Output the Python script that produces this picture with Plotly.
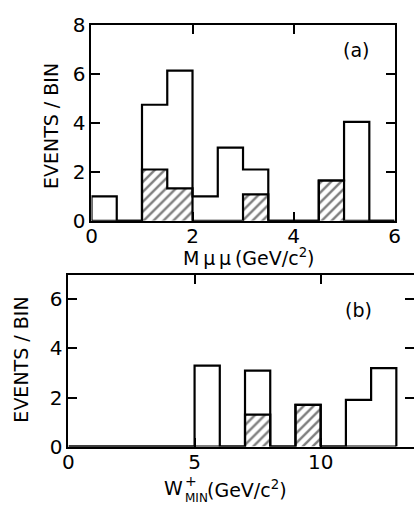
import plotly.graph_objects as go

# ---------------- data ----------------
# panel (a): M_mumu, 0.5 GeV bins
a_edges = [0, 0.5, 1, 1.5, 2, 2.5, 3, 3.5, 4, 4.5, 5, 5.5, 6]
a_total = [1, 0, 4.75, 6.15, 1, 3, 2.1, 0, 0, 1.65, 4.05, 0]
a_hatched = [0, 0, 2.1, 1.33, 0, 0, 1.08, 0, 0, 1.65, 0, 0]
a_xticks = [0, 2, 4, 6]
a_yticks = [0, 2, 4, 6, 8]

# panel (b): W+_MIN, 1 GeV bins
b_edges = [0, 1, 2, 3, 4, 5, 6, 7, 8, 9, 10, 11, 12, 13]
b_total = [0, 0, 0, 0, 0, 3.3, 0, 3.1, 0, 1.7, 0, 1.9, 3.2]
b_hatched = [0, 0, 0, 0, 0, 0, 0, 1.3, 0, 1.7, 0, 0, 0]
b_xticks = [0, 5, 10]
b_yticks = [0, 2, 4, 6]

FONT = "DejaVu Sans"


def step_path(edges, vals):
    xs = [edges[0]]
    ys = [0]
    for i, v in enumerate(vals):
        xs.append(edges[i])
        ys.append(v)
    xs.append(edges[-1])
    ys.append(0)
    return xs, ys


fig = go.Figure()


def add_hist(edges, total, hatched, xa, ya):
    hx, hy = step_path(edges, hatched)
    fig.add_trace(go.Scatter(
        x=hx, y=hy, xaxis=xa, yaxis=ya, mode="lines", line_shape="hv",
        line=dict(color="black", width=0), fill="tozeroy", fillcolor="white",
        fillpattern=dict(shape="/", fgcolor="black", bgcolor="white",
                         size=7, solidity=0.35),
        hoverinfo="skip", showlegend=False))
    fig.add_trace(go.Scatter(
        x=hx, y=hy, xaxis=xa, yaxis=ya, mode="lines", line_shape="hv",
        line=dict(color="black", width=2.2), hoverinfo="skip", showlegend=False))
    tx, ty = step_path(edges, total)
    fig.add_trace(go.Scatter(
        x=tx, y=ty, xaxis=xa, yaxis=ya, mode="lines", line_shape="hv",
        line=dict(color="black", width=2.2), hoverinfo="skip", showlegend=False))


add_hist(a_edges, a_total, a_hatched, "x", "y")
add_hist(b_edges, b_total, b_hatched, "x2", "y2")
# invisible trace to carry right-hand ticks of panel (b)
fig.add_trace(go.Scatter(x=[b_edges[0]], y=[0], xaxis="x2", yaxis="y3",
                         mode="markers", marker=dict(opacity=0),
                         hoverinfo="skip", showlegend=False))

W, H = 420, 517

axis_common = dict(
    showgrid=False, zeroline=False, showline=True, linecolor="black",
    linewidth=2, ticks="inside", ticklen=9, tickwidth=2, tickcolor="black",
    tickfont=dict(family=FONT, size=20, color="black"),
)

fig.update_layout(
    width=W, height=H, autosize=False,
    margin=dict(l=0, r=0, t=0, b=0),
    paper_bgcolor="white", plot_bgcolor="white",
    font=dict(family=FONT, color="black"),
    xaxis=dict(domain=[88 / W, 400 / W], range=[0, 6], tickvals=a_xticks,
               anchor="y", mirror="ticks", ticklabelstandoff=-4, **axis_common),
    yaxis=dict(domain=[1 - 219 / H, 1 - 14 / H], range=[0, 8], tickvals=a_yticks,
               anchor="x", mirror="ticks", **axis_common),
    xaxis2=dict(domain=[64.3 / W, 1.0], range=[0, 13.7], tickvals=b_xticks,
                anchor="y2", mirror="ticks", ticklabelstandoff=-4, **axis_common),
    yaxis2=dict(domain=[1 - 455.7 / H, 1 - 275.7 / H], range=[0, 7],
                tickvals=b_yticks, anchor="x2", mirror=False, **axis_common),
    yaxis3=dict(overlaying="y2", side="right", anchor="x2", range=[0, 7],
                tickvals=b_yticks[1:], showticklabels=False, showline=False,
                showgrid=False, zeroline=False, ticks="inside", ticklen=9,
                tickwidth=2, tickcolor="black"),
)


def ann(text, x, y, angle=0, size=19, xanchor="center"):
    fig.add_annotation(text=text, x=x / W, y=1 - y / H, xref="paper", yref="paper",
                       showarrow=False, xanchor=xanchor, yanchor="middle",
                       textangle=angle, font=dict(family=FONT, size=size, color="black"))


ann("(a)", 360, 40)
ann("(b)", 363, 313)
ann("EVENTS / BIN", 47, 120, angle=-90, size=19)
ann("EVENTS / BIN", 15, 365, angle=-90, size=19)
ann("M\u2009μ\u2009μ\u2009(GeV/c<sup>2</sup>)", 250, 257, size=19)
ann("W", 172, 499, size=19)
ann("+", 190, 492, size=14)
ann("MIN", 182, 510, size=12, xanchor="left")
ann("(GeV/c<sup>2</sup>)", 205, 500, size=19, xanchor="left")

post = (
    "document.documentElement.style.margin='0px';"
    "document.documentElement.style.padding='0px';"
    "document.documentElement.style.overflow='hidden';"
    "document.body.style.margin='0px';"
    "document.body.style.padding='0px';"
    "document.body.style.overflow='hidden';"
)
fig.write_html("out.html", post_script=post, config={"displayModeBar": False})
